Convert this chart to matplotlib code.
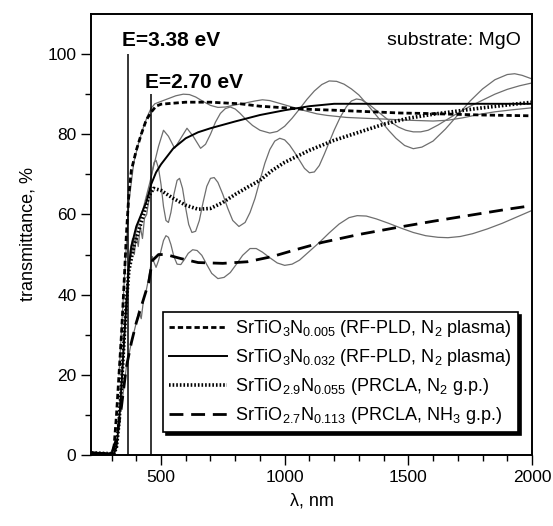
import numpy as np
import matplotlib
matplotlib.use("Agg")
import matplotlib.pyplot as plt
import matplotlib as mpl

mpl.rcParams['font.family'] = ['Liberation Sans', 'DejaVu Sans']
mpl.rcParams['mathtext.default'] = 'regular'
mpl.rcParams['xtick.direction'] = 'out'
mpl.rcParams['ytick.direction'] = 'out'

# fitted curves (black): wavelength (nm), transmittance (%)
wl_a = [220, 300, 310, 320, 330, 340, 350, 360, 370, 380, 400, 420, 440, 460, 480, 500, 600, 700,
        820, 900, 1000, 1063, 1200, 1468, 1560, 1800, 2000]
tr_a = [0.5, 0.3, 2, 10, 20, 30, 42, 55, 65, 71, 76, 80, 83.5, 85.5, 87, 87.5, 88, 88,
        87.6, 87, 86.6, 86.3, 86, 85.3, 85.2, 84.8, 84.6]

wl_b = [220, 310, 320, 330, 340, 350, 360, 370, 380, 400, 420, 440, 460, 480, 500, 550, 600, 650,
        700, 800, 900, 1000, 1100, 1200, 1400, 1600, 1800, 2000]
tr_b = [0.5, 0.3, 2, 8, 17, 28, 38, 47, 52, 57, 60, 63, 67.5, 70.5, 72.5, 76.5, 79, 80.5,
        81.5, 83.2, 84.8, 86, 87, 87.6, 87.6, 87.6, 87.6, 87.6]

wl_c = [220, 310, 320, 330, 340, 350, 360, 370, 390, 410, 430, 450, 470, 500, 550, 600, 650, 700,
        750, 800, 850, 900, 950, 1000, 1100, 1200, 1300, 1400, 1500, 1600, 1700, 1800, 1900, 2000]
tr_c = [0.5, 0.3, 2, 8, 17, 28, 38, 46, 52, 56, 60, 64.5, 66.5, 66, 64, 62.3, 61.3, 61.5,
        63, 65, 66.8, 68.5, 71, 73, 76, 78.5, 80.5, 82.5, 84, 85, 85.8, 86.6, 87.3, 88]

wl_d = [220, 300, 320, 340, 360, 380, 400, 430, 450, 465, 490, 520, 580, 650, 750, 850, 950, 1050,
        1150, 1300, 1450, 1600, 1750, 1900, 2000]
tr_d = [0.5, 0.3, 4, 12, 22, 28, 33, 39, 43, 48.5, 50, 50, 49, 48, 47.8, 48.2, 49.5, 51.3,
        53, 55, 56.7, 58.3, 59.8, 61.3, 62.2]

# measured spectra (grey, with interference fringes)
wl_ga = [330, 350, 370, 390, 410, 430, 445, 460, 475, 500, 530, 560, 590, 615, 640, 670, 700, 730,
         760, 800, 840, 880, 910, 940, 980, 1030, 1080, 1130, 1172, 1250, 1320, 1400, 1500, 1600,
         1660, 1720, 1790, 1850, 1920, 2000]
tr_ga = [20, 42, 63, 73, 78, 82, 84.5, 86.5, 87.6, 88.2, 88.9, 89.6, 90, 89.9, 89.3, 88.2, 87.2, 86.7,
         86.8, 87.3, 87.8, 88.3, 88.6, 88.4, 87.7, 86.8, 85.9, 85.1, 84.7, 84.2, 84, 83.8, 83.5, 83.3,
         83.5, 84.1, 85, 85.6, 86.1, 86.6]

wl_gb = [330, 350, 370, 400, 430, 455, 470, 490, 510, 530, 555, 580, 605, 630, 660, 680, 700, 720,
         740, 760, 780, 800, 820, 845, 870, 900, 940, 970, 1000, 1030, 1060, 1090, 1120, 1150, 1180,
         1210, 1240, 1270, 1300, 1340, 1380, 1420, 1450, 1485, 1520, 1555, 1600, 1650, 1700, 1750,
         1800, 1850, 1900, 1930, 1960, 2000]
tr_gb = [8, 28, 47, 56, 62, 68, 72, 77, 81, 79.5, 76.5, 79, 81.5, 79.5, 76.5, 77.5, 80, 83,
         85.2, 86.4, 86.8, 86.3, 85.2, 83.6, 82.2, 81, 80.3, 80.7, 82, 84, 86.3, 88.7, 90.8, 92.4, 93.3,
         93.2, 92.5, 91.3, 89.8, 87, 84, 81, 79, 77.2, 76.4, 76.8, 78.3, 81.3, 84.8, 88.3,
         91.3, 93.6, 94.9, 95.1, 94.7, 93.8]

wl_gc = [330, 350, 365, 375, 385, 392, 400, 408, 416, 425, 433, 442, 452, 462, 472, 480, 490, 500,
         510, 520, 530, 540, 552, 565, 575, 587, 600, 612, 625, 640, 655, 670, 685, 700, 715, 730,
         750, 770, 790, 815, 840, 860, 880, 900, 920, 940, 960, 980, 1000, 1020, 1040, 1060, 1080,
         1100, 1120, 1140, 1160, 1180, 1200, 1225, 1250, 1270, 1290, 1310, 1340, 1370, 1400, 1430,
         1460, 1490, 1520, 1550, 1580, 1620, 1660, 1700, 1750, 1800, 1850, 1900, 1950, 2000]
tr_gc = [8, 28, 44, 51, 54, 50, 55, 52, 57, 54, 59, 60, 64, 70, 73, 73.5, 71.5, 67.5,
         62, 58.5, 58, 60.5, 65, 68.5, 69, 66.5, 61.5, 57.5, 55.5, 55.8, 58.5, 63, 67, 69, 69.2, 68,
         65, 61.5, 58.5, 57, 58, 60.5, 64, 68.5, 72.8, 76.2, 78.3, 79, 78.6, 77.3, 75.5, 73.5, 71.5,
         70.4, 70.6, 72.2, 75, 78, 81, 84.3, 86.9, 88.3, 88.8, 88.6, 87.5, 86, 84.5, 83,
         81.8, 81, 80.6, 80.6, 81, 82.3, 83.8, 85.3, 87, 88.5, 90, 91.2, 92.1, 92.8]

wl_gd = [340, 360, 380, 400, 410, 420, 430, 440, 450, 458, 465, 472, 480, 490, 500, 510, 520, 530,
         540, 552, 565, 580, 595, 610, 628, 646, 665, 685, 705, 730, 755, 780, 805, 830, 860, 885,
         910, 940, 970, 1000, 1030, 1060, 1100, 1140, 1180, 1220, 1260, 1293, 1330, 1370, 1420,
         1470, 1520, 1570, 1620, 1660, 1710, 1760, 1820, 1880, 1940, 2000]
tr_gd = [12, 22, 28, 33, 36, 34, 39, 41, 44, 47, 49.5, 48, 46.8, 48.5, 51, 53.5, 54.7, 54.3,
         52.5, 49.5, 47.6, 47.5, 48.8, 50.3, 51.2, 51, 49.8, 47.5, 45.3, 44, 44.3, 45.5, 47.6, 49.8, 51.5, 51.5,
         50.6, 49.2, 47.9, 47.3, 47.6, 48.6, 50.8, 53, 55.4, 57.6, 59.2, 59.7, 59.6, 58.9, 57.8,
         56.6, 55.5, 54.7, 54.3, 54.2, 54.5, 55.2, 56.4, 57.8, 59.4, 61]

labels = [r"SrTiO$_3$N$_{0.005}$ (RF-PLD, N$_2$ plasma)",
          r"SrTiO$_3$N$_{0.032}$ (RF-PLD, N$_2$ plasma)",
          r"SrTiO$_{2.9}$N$_{0.055}$ (PRCLA, N$_2$ g.p.)",
          r"SrTiO$_{2.7}$N$_{0.113}$ (PRCLA, NH$_3$ g.p.)"]

fig = plt.figure(figsize=(5.53, 5.26), dpi=100)
ax = fig.add_axes([0.1646, 0.135, 0.7974, 0.8384])

grey = '#6e6e6e'
for wl, tr in [(wl_ga, tr_ga), (wl_gb, tr_gb), (wl_gc, tr_gc), (wl_gd, tr_gd)]:
    ax.plot(wl, tr, color=grey, lw=0.9, zorder=2)

l1, = ax.plot(wl_a, tr_a, color='black', lw=2.0, ls=(0, (1.9, 1.1)), zorder=3)
l2, = ax.plot(wl_b, tr_b, color='black', lw=1.4, zorder=3)
l3, = ax.plot(wl_c, tr_c, color='black', lw=2.6, ls=(0, (0.45, 0.55)), zorder=3)
l4, = ax.plot(wl_d, tr_d, color='black', lw=2.0, ls=(0, (5, 2.8)), zorder=3)

ax.vlines(367, 0, 100, color='black', lw=1.1, zorder=4)
ax.vlines(459, 0, 90, color='black', lw=1.1, zorder=4)
ax.text(342, 103.5, "E=3.38 eV", fontsize=15, fontweight='bold', va='center', ha='left')
ax.text(435, 93, "E=2.70 eV", fontsize=15, fontweight='bold', va='center', ha='left')
ax.text(1955, 103.5, "substrate: MgO", fontsize=14, va='center', ha='right')

ax.set_xlim(217, 2000)
ax.set_ylim(0, 110)
ax.set_xticks([500, 1000, 1500, 2000])
ax.set_xticks(np.arange(300, 2000, 100), minor=True)
ax.set_yticks([0, 20, 40, 60, 80, 100])
ax.set_yticks(np.arange(10, 110, 20), minor=True)
ax.tick_params(axis='both', which='major', length=7, width=1.0, labelsize=12.5,
               top=False, right=False)
ax.tick_params(axis='both', which='minor', length=4.5, width=1.0, top=False, right=False)
for s in ax.spines.values():
    s.set_linewidth(1.4)

ax.set_xlabel("λ, nm", fontsize=13, labelpad=6)
ax.set_ylabel("transmittance, %", fontsize=13, labelpad=8)

leg = ax.legend([l1, l2, l3, l4], labels, loc='upper right', bbox_to_anchor=(0.9367, 0.4068),
                bbox_transform=fig.transFigure, borderaxespad=0, fontsize=13, frameon=True,
                fancybox=False, shadow={'color': 'black', 'alpha': 1.0}, edgecolor='black',
                handlelength=3.2, handletextpad=0.45, labelspacing=0.44, borderpad=0.35,
                framealpha=1)
leg.get_frame().set_linewidth(1.2)

plt.savefig("out.png", dpi=100)
